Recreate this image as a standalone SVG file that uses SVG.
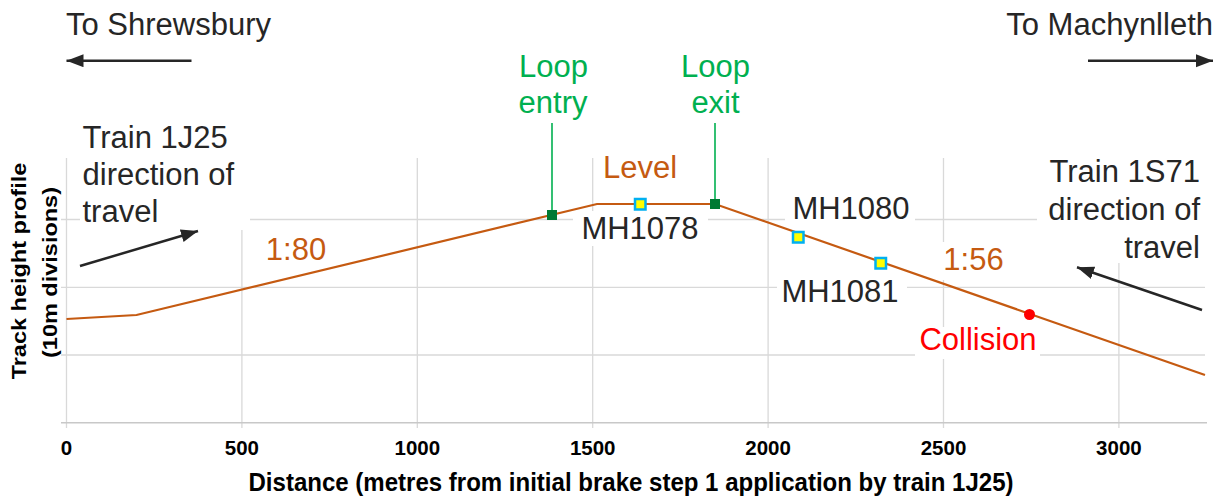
<svg xmlns="http://www.w3.org/2000/svg" width="1223" height="498" viewBox="0 0 1223 498">
<defs>
<style>
.grid{stroke:#d9d9d9;stroke-width:1.3;fill:none}
.axis{stroke:#c8c8c8;stroke-width:1.5;fill:none}
.t{font-family:"Liberation Sans",Arial,sans-serif;font-size:31px;fill:#262626}
.or{fill:#c55a11}
.gr{fill:#00b050}
.red{fill:#ff0000}
.tick{font-family:"Liberation Sans",Arial,sans-serif;font-size:20.5px;font-weight:bold;fill:#000;text-anchor:middle}
.ttl{font-family:"Liberation Sans",Arial,sans-serif;font-weight:bold;fill:#000;text-anchor:middle}
.bg{fill:#fff}
.arr{stroke:#262626;stroke-width:2.5;fill:none;marker-end:url(#ah)}
.gl{stroke:#00b050;stroke-width:1.6}
.mh{fill:#ffff00;stroke:#00b0f0;stroke-width:2.5}
.lp{fill:#007a33}
</style>
<marker id="ah" markerUnits="userSpaceOnUse" markerWidth="20" markerHeight="14" refX="17" refY="6.5" orient="auto">
<path d="M0,0 L17,6.5 L0,13 Z" fill="#262626"/>
</marker>
</defs>
<rect width="1223" height="498" fill="#fff"/>
<g id="grid">
<path class="grid" d="M61,219.5H1205M61,287.3H1205M61,355H1205"/>
<path class="grid" d="M66.5,158V428M241.9,158V428M417.3,158V428M592.7,158V428M768.1,158V428M943.5,158V428M1118.9,158V428"/>
<path class="axis" d="M61,422.7H1207"/>
</g>
<g id="label-backgrounds">
<rect class="bg" x="80" y="118" width="170" height="112"/>
<rect class="bg" x="573" y="211" width="135" height="35"/>
<rect class="bg" x="785" y="191" width="130" height="35"/>
<rect class="bg" x="777" y="276" width="130" height="34"/>
<rect class="bg" x="938" y="242" width="70" height="38"/>
<rect class="bg" x="915" y="327" width="125" height="32"/>
<rect class="bg" x="1037" y="152" width="168" height="111"/>
</g>
<g id="profile">
<polyline points="66.5,319 136.5,315 597,204 715,204 1205,375" fill="none" stroke="#c55a11" stroke-width="2.2"/>
</g>
<g id="connectors">
<line class="gl" x1="552" y1="123" x2="552" y2="212"/>
<line class="gl" x1="715" y1="123" x2="715" y2="200"/>
<line class="arr" x1="191.5" y1="60.7" x2="66.5" y2="60.7"/>
<line class="arr" x1="1088" y1="60.7" x2="1213" y2="60.7"/>
<line class="arr" x1="80" y1="266" x2="198" y2="231"/>
<line class="arr" x1="1202" y1="310" x2="1077" y2="267.3"/>
</g>
<g id="to-shrewsbury"><text class="t" x="66" y="34.5">To Shrewsbury</text></g>
<g id="to-machynlleth"><text class="t" x="1213" y="34.5" text-anchor="end">To Machynlleth</text></g>
<g id="loop-entry">
<text class="t gr" text-anchor="middle"><tspan x="553.5" y="77">Loop</tspan><tspan x="553" y="112.5">entry</tspan></text>
<rect class="lp" x="547" y="210" width="10" height="10"/>
</g>
<g id="loop-exit">
<text class="t gr" text-anchor="middle"><tspan x="715.5" y="77">Loop</tspan><tspan x="715.5" y="112.5">exit</tspan></text>
<rect class="lp" x="710" y="199" width="10" height="10"/>
</g>
<g id="level"><text class="t or" x="640" y="178" text-anchor="middle">Level</text></g>
<g id="grad-180"><text class="t or" x="296" y="260" text-anchor="middle">1:80</text></g>
<g id="grad-156"><text class="t or" x="973.5" y="270" text-anchor="middle">1:56</text></g>
<g id="mh1078">
<rect class="mh" x="635" y="199" width="10.5" height="10.5"/>
<text class="t" x="640" y="239" text-anchor="middle">MH1078</text>
</g>
<g id="mh1080">
<rect class="mh" x="793" y="232" width="10.5" height="10.5"/>
<text class="t" x="851" y="218.5" text-anchor="middle">MH1080</text>
</g>
<g id="mh1081">
<rect class="mh" x="875.5" y="258" width="10.5" height="10.5"/>
<text class="t" x="840" y="301.5" text-anchor="middle">MH1081</text>
</g>
<g id="collision">
<circle cx="1029.5" cy="314.5" r="5.5" fill="#ff0000"/>
<text class="t red" x="978" y="350" text-anchor="middle">Collision</text>
</g>
<g id="train-1j25">
<text class="t"><tspan x="82.5" y="148">Train 1J25</tspan><tspan x="82.5" y="185">direction of</tspan><tspan x="82.5" y="222">travel</tspan></text>
</g>
<g id="train-1s71">
<text class="t" text-anchor="end"><tspan x="1200" y="181.5">Train 1S71</tspan><tspan x="1200" y="219.5">direction of</tspan><tspan x="1200" y="258">travel</tspan></text>
</g>
<g id="x-axis">
<text class="tick" x="66.5" y="455">0</text>
<text class="tick" x="241.9" y="455">500</text>
<text class="tick" x="417.3" y="455">1000</text>
<text class="tick" x="592.7" y="455">1500</text>
<text class="tick" x="768.1" y="455">2000</text>
<text class="tick" x="943.5" y="455">2500</text>
<text class="tick" x="1118.9" y="455">3000</text>
<text class="ttl" x="631" y="491" font-size="25" textLength="765" lengthAdjust="spacingAndGlyphs">Distance (metres from initial brake step 1 application by train 1J25)</text>
</g>
<g id="y-axis">
<text class="ttl" font-size="23.5" transform="translate(25.5,271) scale(0.84,1) rotate(-90)">Track height profile</text>
<text class="ttl" font-size="23.5" transform="translate(57,272.5) scale(0.84,1) rotate(-90)">(10m divisions)</text>
</g>
</svg>
